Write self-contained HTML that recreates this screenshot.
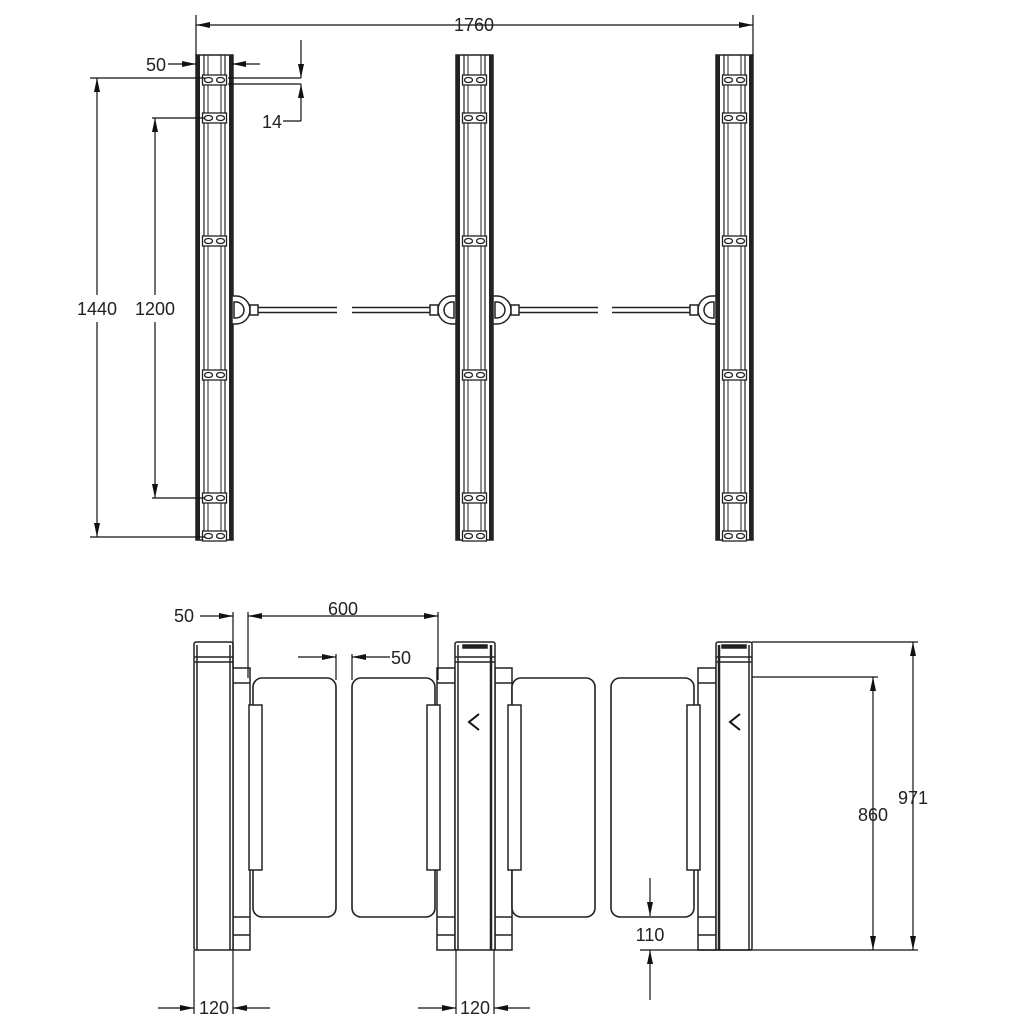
<!DOCTYPE html>
<html><head><meta charset="utf-8"><style>
html,body{margin:0;padding:0;background:#fff}
svg{display:block}
text{font-family:"Liberation Sans",sans-serif;font-size:18px;fill:#222}
</style></head><body>
<svg width="1024" height="1024" viewBox="0 0 1024 1024" xmlns="http://www.w3.org/2000/svg">
<defs>
<marker id="a" viewBox="0 0 14 6" refX="14" refY="3" markerWidth="14" markerHeight="6" orient="auto-start-reverse" markerUnits="userSpaceOnUse"><path d="M0,0L14,3L0,6z" fill="#111"/></marker>
<g id="plate" stroke="#222" fill="#fff" stroke-width="1.3">
<rect x="-12" y="-5" width="24" height="10"/>
<ellipse cx="-6" cy="0" rx="4" ry="2.5"/><ellipse cx="6" cy="0" rx="4" ry="2.5"/>
</g>
<g id="post" stroke="#222" fill="none">
<rect x="0" y="0" width="37" height="485" stroke-width="1.5"/>
<line x1="2" y1="0" x2="2" y2="485" stroke-width="4"/>
<line x1="35" y1="0" x2="35" y2="485" stroke-width="4"/>
<line x1="8" y1="0" x2="8" y2="485" stroke-width="1.2"/>
<line x1="29" y1="0" x2="29" y2="485" stroke-width="1.2"/>
<line x1="12" y1="0" x2="12" y2="485" stroke-width="1"/>
<line x1="25" y1="0" x2="25" y2="485" stroke-width="1"/>
<use href="#plate" x="18.5" y="25"/><use href="#plate" x="18.5" y="63"/>
<use href="#plate" x="18.5" y="186"/><use href="#plate" x="18.5" y="320"/>
<use href="#plate" x="18.5" y="443"/><use href="#plate" x="18.5" y="481"/>
</g>
<g id="hubR" stroke="#222" fill="#fff" stroke-width="1.5">
<path d="M0,-14 H4 A14,14 0 0 1 4,14 H0 z"/>
<path d="M2,-8 H4 A8,8 0 0 1 4,8 H2 z" fill="none"/>
<rect x="18" y="-5" width="8" height="10"/>
<line x1="26" y1="-2.5" x2="105" y2="-2.5"/><line x1="26" y1="2.5" x2="105" y2="2.5"/>
</g>
<g id="gate" stroke="#222" fill="#fff" stroke-width="1.6">
<rect x="0" y="0" width="83" height="239" rx="9"/>
</g>
</defs>

<!-- TOP VIEW -->
<use href="#post" x="196" y="55"/>
<use href="#post" x="456" y="55"/>
<use href="#post" x="716" y="55"/>
<use href="#hubR" x="232" y="310"/>
<use href="#hubR" x="493" y="310"/>
<g stroke="#222" fill="#fff" stroke-width="1.5">
<path d="M456,296 H452 A14,14 0 0 0 452,324 H456 z"/><path d="M454,302 H452 A8,8 0 0 0 452,318 H454 z" fill="none"/>
<rect x="430" y="305" width="8" height="10"/>
<line x1="352" y1="307.5" x2="430" y2="307.5"/><line x1="352" y1="312.5" x2="430" y2="312.5"/>
<path d="M716,296 H712 A14,14 0 0 0 712,324 H716 z"/><path d="M714,302 H712 A8,8 0 0 0 712,318 H714 z" fill="none"/>
<rect x="690" y="305" width="8" height="10"/>
<line x1="612" y1="307.5" x2="690" y2="307.5"/><line x1="612" y1="312.5" x2="690" y2="312.5"/>
</g>

<g stroke="#111" stroke-width="1.2" fill="none">
<line x1="196" y1="15" x2="196" y2="55"/><line x1="753" y1="15" x2="753" y2="55"/>
<line x1="196" y1="25" x2="753" y2="25" marker-start="url(#a)" marker-end="url(#a)"/>
<line x1="90" y1="78" x2="205" y2="78"/><line x1="90" y1="537" x2="205" y2="537"/>
<line x1="97" y1="78" x2="97" y2="295" marker-start="url(#a)"/><line x1="97" y1="322" x2="97" y2="537" marker-end="url(#a)"/>
<line x1="152" y1="118" x2="205" y2="118"/><line x1="152" y1="498" x2="205" y2="498"/>
<line x1="155" y1="118" x2="155" y2="295" marker-start="url(#a)"/><line x1="155" y1="322" x2="155" y2="498" marker-end="url(#a)"/>
<line x1="168" y1="64" x2="196" y2="64" marker-end="url(#a)"/>
<line x1="260" y1="64" x2="232" y2="64" marker-end="url(#a)"/>
<line x1="228" y1="78" x2="301" y2="78"/><line x1="228" y1="84" x2="301" y2="84"/>
<line x1="301" y1="40" x2="301" y2="78" marker-end="url(#a)"/>
<line x1="301" y1="121" x2="301" y2="84" marker-end="url(#a)"/>
<line x1="283" y1="121" x2="301" y2="121"/>
</g>
<text x="474" y="31" text-anchor="middle">1760</text>
<text x="166" y="71" text-anchor="end">50</text>
<text x="272" y="128" text-anchor="middle">14</text>
<text x="97" y="315" text-anchor="middle">1440</text>
<text x="155" y="315" text-anchor="middle">1200</text>

<!-- BOTTOM VIEW -->
<g stroke="#222" fill="#fff" stroke-width="1.5">
<rect x="233" y="668" width="17" height="282"/><line x1="233" y1="683" x2="250" y2="683"/><line x1="233" y1="917" x2="250" y2="917"/><line x1="233" y1="935" x2="250" y2="935"/>
<rect x="437" y="668" width="18" height="282"/><line x1="437" y1="683" x2="455" y2="683"/><line x1="437" y1="917" x2="455" y2="917"/><line x1="437" y1="935" x2="455" y2="935"/>
<rect x="495" y="668" width="17" height="282"/><line x1="495" y1="683" x2="512" y2="683"/><line x1="495" y1="917" x2="512" y2="917"/><line x1="495" y1="935" x2="512" y2="935"/>
<rect x="698" y="668" width="18" height="282"/><line x1="698" y1="683" x2="716" y2="683"/><line x1="698" y1="917" x2="716" y2="917"/><line x1="698" y1="935" x2="716" y2="935"/>
</g>
<use href="#gate" x="253" y="678"/><use href="#gate" x="352" y="678"/>
<use href="#gate" x="512" y="678"/><use href="#gate" x="611" y="678"/>
<g stroke="#222" fill="#fff" stroke-width="1.5">
<rect x="249" y="705" width="13" height="165"/>
<rect x="427" y="705" width="13" height="165"/>
<rect x="508" y="705" width="13" height="165"/>
<rect x="687" y="705" width="13" height="165"/>
<rect x="194" y="642" width="39" height="308" rx="2"/><line x1="194" y1="662" x2="233" y2="662"/><line x1="197" y1="645" x2="197" y2="950"/><line x1="230" y1="645" x2="230" y2="950"/><line x1="194" y1="657" x2="233" y2="657"/>
<rect x="455" y="642" width="40" height="308" rx="2"/><line x1="455" y1="662" x2="495" y2="662"/><line x1="458" y1="645" x2="458" y2="950"/><line x1="491" y1="645" x2="491" y2="950" stroke-width="2.5"/><line x1="455" y1="657" x2="495" y2="657"/><rect x="463" y="645" width="24" height="3" fill="#222"/>
<rect x="716" y="642" width="36" height="308" rx="2"/><line x1="716" y1="662" x2="752" y2="662"/><line x1="719" y1="645" x2="719" y2="950" stroke-width="2.5"/><line x1="749" y1="645" x2="749" y2="950"/><line x1="716" y1="657" x2="752" y2="657"/><rect x="722" y="645" width="24" height="3" fill="#222"/>
</g>
<g stroke="#111" stroke-width="2" fill="none">
<polyline points="479,714 469,722 479,730"/>
<polyline points="740,714 730,722 740,730"/>
</g>
<g stroke="#111" stroke-width="1.2" fill="none">
<line x1="200" y1="616" x2="233" y2="616" marker-end="url(#a)"/>
<line x1="233" y1="612" x2="233" y2="668"/>
<line x1="248" y1="612" x2="248" y2="678"/><line x1="438" y1="612" x2="438" y2="680"/>
<line x1="248" y1="616" x2="438" y2="616" marker-start="url(#a)" marker-end="url(#a)"/>
<line x1="336" y1="654" x2="336" y2="680"/><line x1="352" y1="654" x2="352" y2="680"/>
<line x1="298" y1="657" x2="336" y2="657" marker-end="url(#a)"/>
<line x1="390" y1="657" x2="352" y2="657" marker-end="url(#a)"/>
<line x1="752" y1="642" x2="918" y2="642"/><line x1="752" y1="677" x2="878" y2="677"/>
<line x1="640" y1="950" x2="918" y2="950"/>
<line x1="913" y1="642" x2="913" y2="950" marker-start="url(#a)" marker-end="url(#a)"/>
<line x1="873" y1="677" x2="873" y2="950" marker-start="url(#a)" marker-end="url(#a)"/>
<line x1="650" y1="878" x2="650" y2="916" marker-end="url(#a)"/>
<line x1="650" y1="1000" x2="650" y2="950" marker-end="url(#a)"/>
<line x1="194" y1="950" x2="194" y2="1014"/><line x1="233" y1="950" x2="233" y2="1014"/>
<line x1="158" y1="1008" x2="194" y2="1008" marker-end="url(#a)"/>
<line x1="270" y1="1008" x2="233" y2="1008" marker-end="url(#a)"/>
<line x1="456" y1="950" x2="456" y2="1014"/><line x1="494" y1="950" x2="494" y2="1014"/>
<line x1="418" y1="1008" x2="456" y2="1008" marker-end="url(#a)"/>
<line x1="530" y1="1008" x2="494" y2="1008" marker-end="url(#a)"/>
</g>
<text x="184" y="622" text-anchor="middle">50</text>
<text x="343" y="615" text-anchor="middle">600</text>
<text x="401" y="664" text-anchor="middle">50</text>
<text x="913" y="804" text-anchor="middle">971</text>
<text x="873" y="821" text-anchor="middle">860</text>
<text x="650" y="941" text-anchor="middle">110</text>
<text x="214" y="1014" text-anchor="middle">120</text>
<text x="475" y="1014" text-anchor="middle">120</text>
</svg>
</body></html>
